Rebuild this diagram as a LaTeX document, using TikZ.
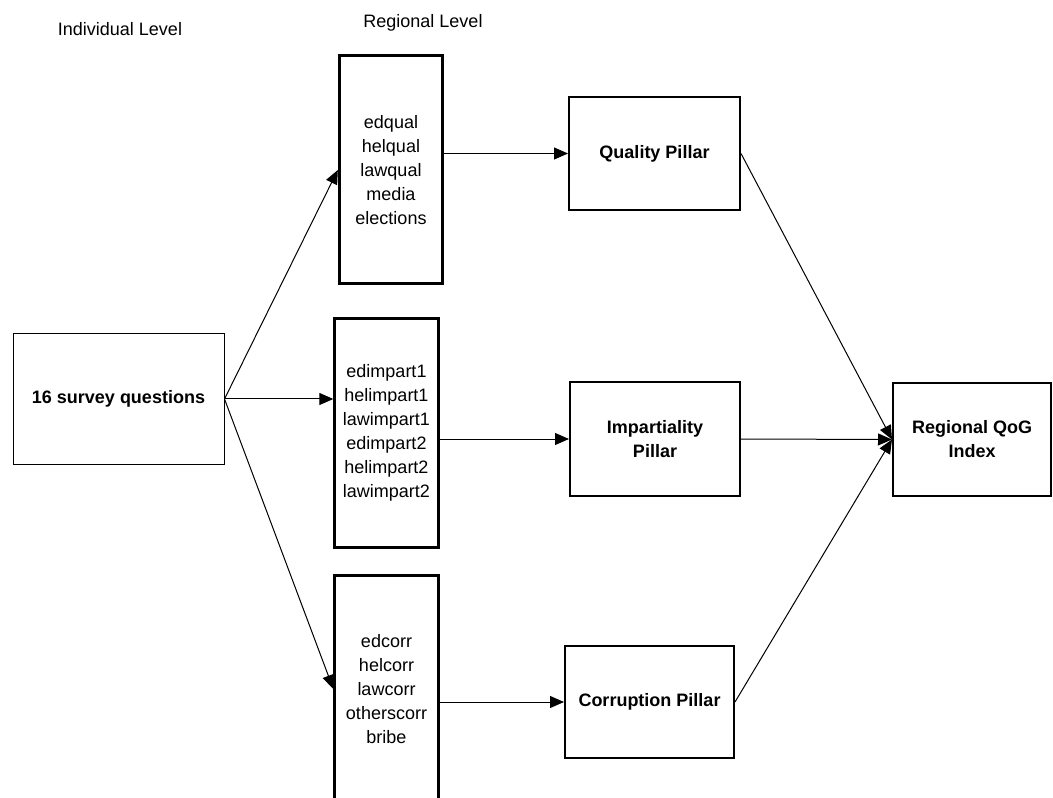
\documentclass[tikz,border=0pt]{standalone}
\usepackage{fontspec}
\setmainfont{Liberation Sans}
\usetikzlibrary{arrows.meta,positioning,calc}

\begin{document}
\begin{tikzpicture}[x=0.75pt, y=-0.75pt,
    every node/.style={font=\fontsize{13.5}{18}\selectfont, align=center, inner sep=0pt},
    varbox/.style={draw, line width=2.25pt, minimum width=77.5pt, minimum height=171pt},
    pillarbox/.style={draw, line width=1.5pt, font=\fontsize{13.5}{18}\selectfont\bfseries},
    link/.style={-{Triangle[length=10.5pt,width=9pt]}, line width=0.75pt}]
            \useasboundingbox (0,0) rectangle (1053,798);

            % Level headings
            \node (indlevel) at (120,29) {Individual Level};
            \node (reglevel) at (423,23) {Regional Level};

            % Individual level
            \node[draw, line width=0.75pt, minimum width=158.25pt, minimum height=97.5pt, font=\fontsize{13.5}{18}\selectfont\bfseries] (survey) at (118.5,399) {16 survey questions};

            % Regional level - indicators
            \node[varbox] (qvars) at (391,170) {edqual\\helqual\\lawqual\\media\\elections};
            \node[varbox] (ivars) at (386.5,433) {edimpart1\\helimpart1\\lawimpart1\\edimpart2\\helimpart2\\lawimpart2};
            \node[varbox] (cvars) at (386.5,689) {edcorr\\helcorr\\lawcorr\\otherscorr\\bribe};

            % Pillars
            \node[pillarbox, minimum width=128.25pt, minimum height=84.75pt] (qpillar) at (654.5,153.5) {Quality Pillar};
            \node[pillarbox, minimum width=127.5pt, minimum height=85.5pt] (ipillar) at (655,439) {Impartiality\\Pillar};
            \node[pillarbox, minimum width=126.75pt, minimum height=84pt] (cpillar) at (649.5,702) {Corruption Pillar};

            % Index
            \node[pillarbox, minimum width=118.5pt, minimum height=84.75pt] (qog) at (972,439.5) {Regional QoG\\Index};

            % Survey to indicators
            \draw[link] (survey.east) -- (qvars.west);
            \draw[link] (survey.east) -- (survey.east -| ivars.west);
            \draw[link] (survey.east) -- (cvars.west);

            % Indicators to pillars
            \draw[link] (qvars.east |- qpillar.west) -- (qpillar.west);
            \draw[link] (ivars.east |- ipillar.west) -- (ipillar.west);
            \draw[link] (cvars.east |- cpillar.west) -- (cpillar.west);

            % Pillars to index
            \draw[link] (qpillar.east) -- (qog.west);
            \draw[link] (ipillar.east) -- (qog.west);
            \draw[link] (cpillar.east) -- (qog.west);
        \end{tikzpicture}
\end{document}
